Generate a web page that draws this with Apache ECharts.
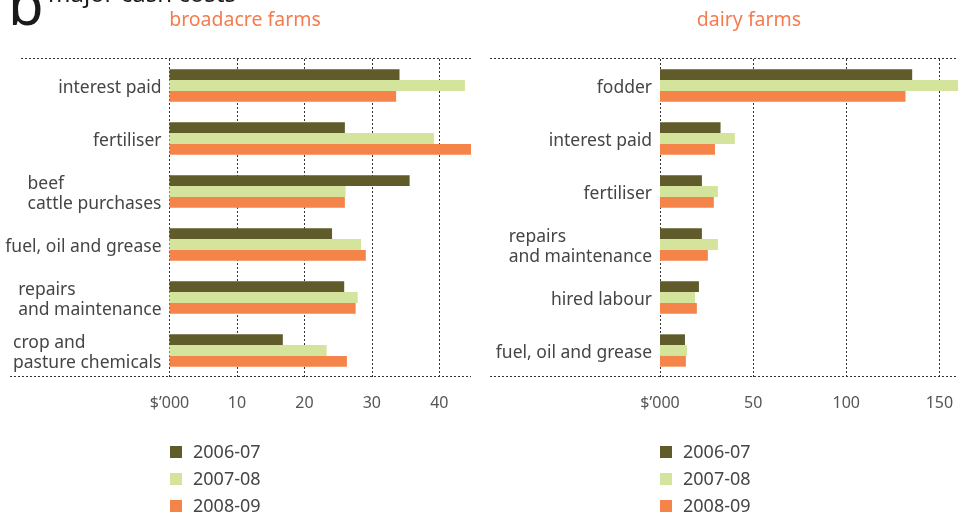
<!DOCTYPE html>
<html>
<head>
<meta charset="UTF-8">
<title>major cash costs</title>
<script src="https://cdn.jsdelivr.net/npm/echarts@6/dist/echarts.min.js"></script>
<style>
  html, body { margin: 0; padding: 0; background: #fff; }
  #main { width: 958px; height: 513px; }
</style>
</head>
<body>
<div id="main"></div>
<script type="text/javascript">
// data ($'000)
var years = ['2006-07', '2007-08', '2008-09'];
var colors = ['#5f5b2a', '#d4e49c', '#f5844a'];

var broadCats = ['interest paid', 'fertiliser', 'beef\ncattle purchases', 'fuel, oil and grease',
                 'repairs\nand maintenance', 'crop and\npasture chemicals'];
var broad0607 = [34.1, 26.0, 35.6, 24.1, 25.9, 16.8];
var broad0708 = [43.8, 39.2, 26.1, 28.4, 27.9, 23.3];
var broad0809 = [33.6, 44.7, 26.0, 29.1, 27.6, 26.3];

var dairyCats = ['fodder', 'interest paid', 'fertiliser', 'repairs\nand maintenance',
                 'hired labour', 'fuel, oil and grease'];
var dairy0607 = [135.4, 32.5, 22.5, 22.5, 20.9, 13.4];
var dairy0708 = [160, 40.2, 31.1, 31.1, 18.8, 14.5];
var dairy0809 = [131.8, 29.5, 28.9, 25.7, 19.8, 13.9];

var FONT = 'Noto Sans';
var TXT = '#454545';
var ORANGE = '#f47c50';

var myChart = echarts.init(document.getElementById('main'));

function catAxis(idx, cats) {
    return {
        type: 'category',
        gridIndex: idx,
        inverse: true,
        data: cats,
        axisLine: { show: false },
        axisTick: { show: false },
        axisLabel: {
            margin: 8,
            padding: [5, 0, 0, 0],
            color: TXT,
            fontFamily: FONT,
            fontSize: 17.5,
            // rich text keeps the lines of two-line labels left aligned
            formatter: function (v) {
                return v.split('\n').map(function (s) { return '{t|' + s + '}'; }).join('\n');
            },
            rich: { t: { color: TXT, fontFamily: FONT, fontSize: 17.5, lineHeight: 20, align: 'left' } }
        }
    };
}

function valAxis(idx, max, interval) {
    return {
        type: 'value',
        gridIndex: idx,
        min: 0,
        max: max,
        interval: interval,
        axisLine: { show: false },
        axisTick: { show: false },
        splitLine: {
            show: true,
            showMaxLine: false,
            lineStyle: { color: '#333', type: [2, 2], width: 1 }
        },
        axisLabel: {
            margin: 18,
            color: '#555',
            fontFamily: FONT,
            fontSize: 16,
            showMaxLabel: false,
            formatter: function (v) { return v === 0 ? '$\u2019000' : v; }
        }
    };
}

function bars(idx, name, vals, color) {
    return {
        name: name,
        type: 'bar',
        xAxisIndex: idx,
        yAxisIndex: idx,
        data: vals,
        barGap: '0%',
        barCategoryGap: '39%',
        itemStyle: { color: color },
        silent: true
    };
}

function dotted(x1, x2, y) {
    return {
        type: 'line',
        shape: { x1: x1, y1: y, x2: x2, y2: y },
        style: { stroke: '#333', lineWidth: 1, lineDash: [2, 2] },
        z: 5
    };
}

function legendRows(x) {
    var items = [];
    for (var i = 0; i < years.length; i++) {
        items.push({
            type: 'rect',
            shape: { x: x, y: 446 + i * 27, width: 12, height: 12 },
            style: { fill: colors[i] }
        });
        items.push({
            type: 'text',
            x: x + 23,
            y: 453 + i * 27,
            style: { text: years[i], fill: TXT, font: '18px "Noto Sans"', verticalAlign: 'middle' }
        });
    }
    return items;
}

var option = {
    animation: false,
    grid: [
        { left: 169.5, right: 487, top: 59, bottom: 136 },
        { left: 660, right: 0, top: 59, bottom: 136 }
    ],
    xAxis: [valAxis(0, 44.7, 10), valAxis(1, 160, 50)],
    yAxis: [catAxis(0, broadCats), catAxis(1, dairyCats)],
    series: [
        bars(0, years[0], broad0607, colors[0]),
        bars(0, years[1], broad0708, colors[1]),
        bars(0, years[2], broad0809, colors[2]),
        bars(1, years[0], dairy0607, colors[0]),
        bars(1, years[1], dairy0708, colors[1]),
        bars(1, years[2], dairy0809, colors[2])
    ],
    graphic: [
        { type: 'text', x: 8, y: 8, style: { text: 'b', fill: '#1a1a1a', font: '58px "Noto Sans"', verticalAlign: 'middle' } },
        { type: 'text', x: 48, y: -5, style: { text: 'major cash costs', fill: '#1a1a1a', font: '24px "Noto Sans"', verticalAlign: 'middle' } },
        { type: 'text', x: 245, y: 20, style: { text: 'broadacre farms', fill: ORANGE, font: '19.5px "Noto Sans"', align: 'center', verticalAlign: 'middle' } },
        { type: 'text', x: 749, y: 20, style: { text: 'dairy farms', fill: ORANGE, font: '19.5px "Noto Sans"', align: 'center', verticalAlign: 'middle' } },
        dotted(21, 471, 58.5),
        dotted(10, 471, 376.5),
        dotted(490, 958, 58.5),
        dotted(490, 958, 376.5)
    ].concat(legendRows(170)).concat(legendRows(660))
};

myChart.setOption(option);
</script>
</body>
</html>
